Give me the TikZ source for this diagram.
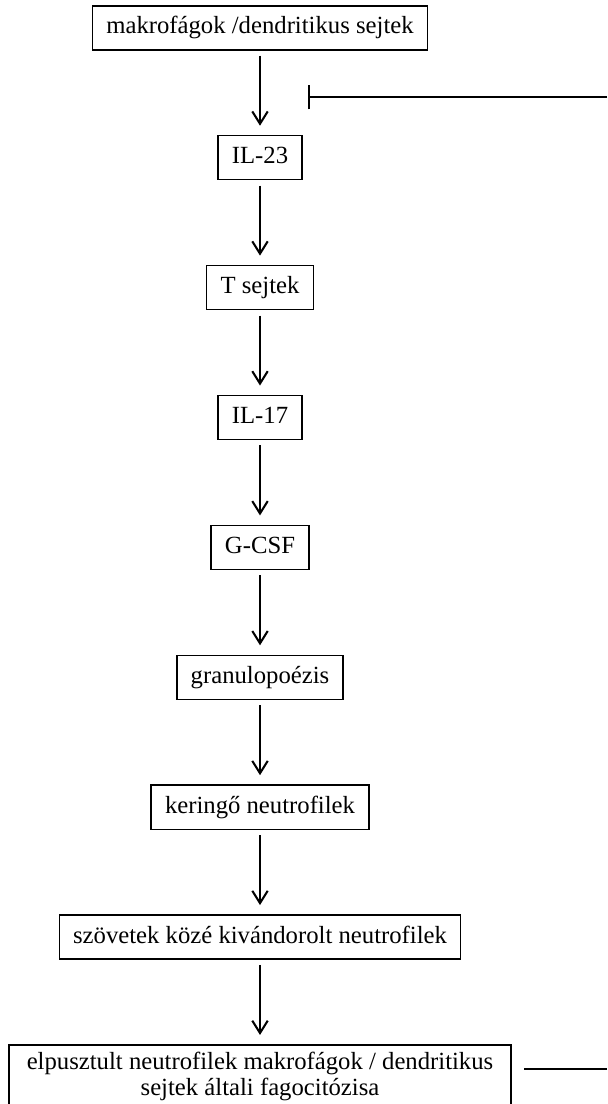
\documentclass[tikz,border=0pt]{standalone}
\usepackage{fontspec}
\setmainfont{Liberation Serif}
\usetikzlibrary{arrows.meta,positioning}
\tikzset{
  >={Straight Barb[length=6pt,width=7.5pt]},
  box/.style={draw,line width=0.7pt,inner xsep=6.7pt,inner ysep=0pt,minimum height=21.4pt,
    text height=8.4pt,text depth=2.6pt,font=\fontsize{12}{13.5}\selectfont},
  ebox/.style={draw,line width=0.7pt,inner xsep=6.7pt,inner ysep=3.5pt,minimum width=244pt,
    align=center,font=\fontsize{12}{12.5}\selectfont},
  arr/.style={->,line width=1pt,shorten <=2.5pt,shorten >=4.5pt},
  inh/.style={-{Bar[width=12pt]},line width=1pt},
}
\begin{document}
\begin{tikzpicture}[x=0.4858pt,y=-0.4858pt,node distance=41pt]
\useasboundingbox (0,0) rectangle (607,1104);
\node[box,anchor=north] (il23) at (260,135) {IL-23};
\node[box,above=of il23] (mak) {makrofágok /dendritikus sejtek};
\node[box,below=of il23] (tsejt) {T sejtek};
\node[box,below=of tsejt] (il17) {IL-17};
\node[box,below=of il17] (gcsf) {G-CSF};
\node[box,below=of gcsf] (gran) {granulopoézis};
\node[box,below=of gran] (kering) {keringő neutrofilek};
\node[box,below=of kering] (szov) {szövetek közé kivándorolt neutrofilek};
\node[ebox,below=of szov] (fago) {elpusztult neutrofilek makrofágok / dendritikus\\sejtek általi fagocitózisa\rule[-8pt]{0pt}{1pt}};
\foreach \u/\v in {mak/il23,il23/tsejt,tsejt/il17,il17/gcsf,gcsf/gran,gran/kering,kering/szov,szov/fago}
  \draw[arr] (\v.north |- \u.south) -- (\v.north);
% feedback ends, running off the page
\coordinate (gat) at (308,97);
\coordinate (ki1) at (607,97);
\coordinate (ki2) at (607,1069);
\draw[inh] (ki1) -- (gat);
\draw[line width=1pt,shorten <=6pt] (fago.east |- ki2) -- (ki2);
\end{tikzpicture}
\end{document}
